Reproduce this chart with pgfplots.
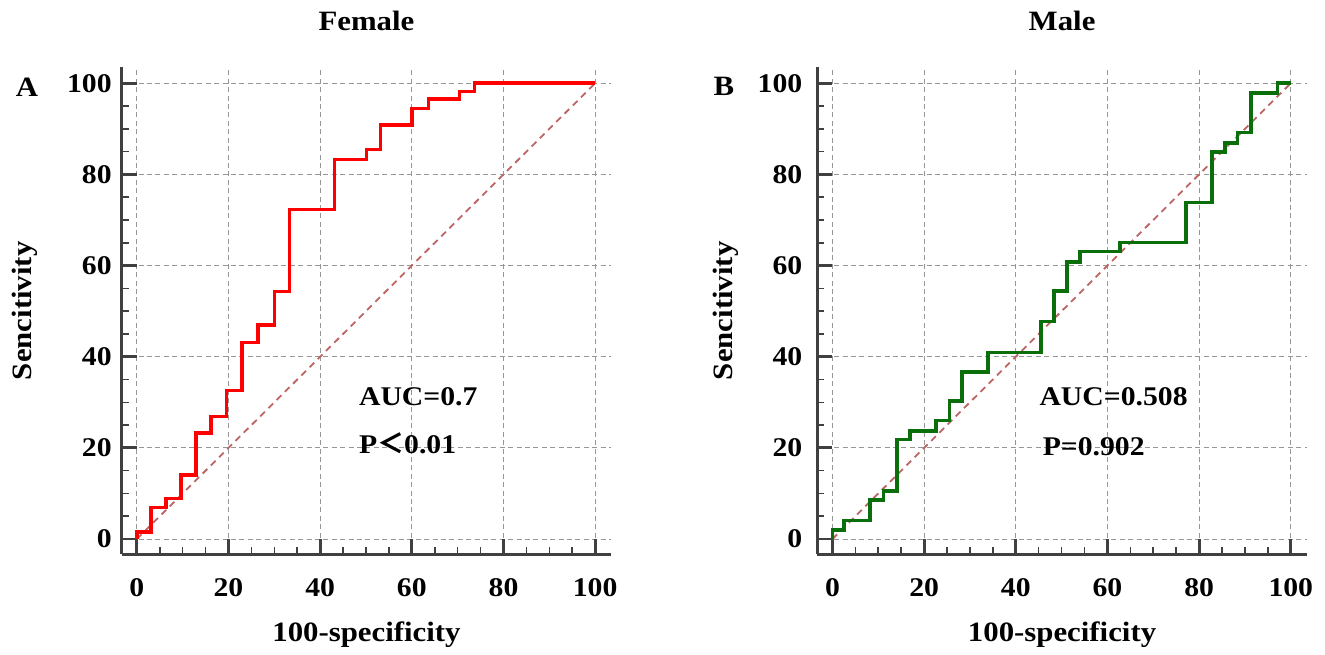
\documentclass[border=0pt]{standalone}
\usepackage{fontspec}
\setmainfont{Liberation Serif}[FakeStretch=1.1]
\newfontfamily\cjk{Noto Sans CJK SC}
\usepackage{pgfplots}
\pgfplotsset{compat=1.18}

\definecolor{spine}{RGB}{64,64,64}
\definecolor{gridc}{RGB}{150,150,150}
\definecolor{diag}{RGB}{190,100,100}
\definecolor{rocred}{RGB}{255,0,0}
\definecolor{rocgreen}{RGB}{10,110,10}

\newcommand{\tickfont}{\fontsize{13.5}{16}\selectfont\bfseries}
\newcommand{\labfont}{\fontsize{14}{17}\selectfont\bfseries}

\pgfplotsset{
  rocax/.style={
    scale only axis, width=244.75pt, height=243.5pt,
    xmin=-3.3, xmax=103.5, ymin=-3.35, ymax=103.5,
    axis x line=bottom, axis y line=left,
    every outer x axis line/.append style={-},
    every outer y axis line/.append style={-},
    axis line style={line width=1.4pt, draw=spine},
    xtick={0,20,...,100}, ytick={0,20,...,100},
    minor tick num=3,
    tick align=inside,
    major tick length=7.5pt, minor tick length=3.5pt,
    major tick style={line width=1.4pt, draw=spine},
    minor tick style={line width=0.8pt, draw=spine},
    grid=major,
    major grid style={draw=gridc, line width=0.5pt, dash pattern=on 2.5pt off 1.7pt},
    tick label style={font=\tickfont},
    /pgf/number format/assume math mode=true,
    xticklabel style={yshift=-8.8pt},
    label style={font=\labfont},
    xlabel={100-specificity}, ylabel={Sencitivity},
    xlabel style={at={(axis description cs:0.5,-0.18)}, anchor=base},
    title style={at={(axis description cs:0.5,1.051)}, anchor=base, font=\labfont},
    clip=false,
  },
}

\begin{document}
\begin{tikzpicture}
\useasboundingbox (0,0) rectangle (662.5pt,327pt);

\begin{axis}[rocax, at={(60.85pt,49.85pt)}, anchor=south west,
  title={Female},
  yticklabel style={xshift=-1.5pt},
  ylabel style={at={(axis description cs:-0.1976,0.5)}, anchor=center}]
  \addplot[diag, line width=0.9pt, dash pattern=on 3.3pt off 2.5pt] coordinates {(0,0) (100,100)};
  \addplot[rocred, line width=1.8pt] coordinates {
    (0,0) (0,1.6) (3.1,1.6) (3.1,6.9) (6.3,6.9) (6.3,8.9) (9.7,8.9) (9.7,14.1)
    (12.9,14.1) (12.9,23.3) (16.2,23.3) (16.2,26.9) (19.6,26.9) (19.6,32.6)
    (22.9,32.6) (22.9,43.1) (26.5,43.1) (26.5,46.9) (30,46.9) (30,54.3)
    (33.3,54.3) (33.3,72.3) (43.1,72.3) (43.1,83.3) (50.1,83.3) (50.1,85.5)
    (53.2,85.5) (53.2,90.9) (60,90.9) (60,94.5) (63.6,94.5) (63.6,96.5)
    (70.4,96.5) (70.4,98.2) (73.7,98.2) (73.7,100) (100,100)
  };
  \node[anchor=base west, font=\tickfont, inner sep=0pt] at (axis cs:48.4,29.4) {AUC=0.7};
  \node[anchor=base west, font=\tickfont, inner sep=0pt] at (axis cs:48.4,18.8) {P{\cjk ＜}0.01};
\end{axis}

\begin{axis}[rocax, at={(408.65pt,49.85pt)}, anchor=south west,
  title={Male},
  yticklabel style={xshift=-4pt},
  ylabel style={at={(axis description cs:-0.186,0.5)}, anchor=center}]
  \addplot[diag, line width=0.9pt, dash pattern=on 3.3pt off 2.5pt] coordinates {(0,0) (100,100)};
  \addplot[rocgreen, line width=1.8pt] coordinates {
    (0,0) (0,2) (2.5,2) (2.5,4.1) (8.2,4.1) (8.2,8.5) (11.1,8.5) (11.1,10.5)
    (14.1,10.5) (14.1,21.8) (16.9,21.8) (16.9,23.7) (22.6,23.7) (22.6,26)
    (25.5,26) (25.5,30.3) (28.3,30.3) (28.3,36.7) (33.9,36.7) (33.9,40.9)
    (45.5,40.9) (45.5,47.7) (48.4,47.7) (48.4,54.4) (51.2,54.4) (51.2,60.8)
    (54,60.8) (54,63.1) (62.7,63.1) (62.7,65.1) (77.1,65.1) (77.1,73.8)
    (82.8,73.8) (82.8,84.9) (85.6,84.9) (85.6,86.9) (88.4,86.9) (88.4,89.2)
    (91.3,89.2) (91.3,97.8) (97.1,97.8) (97.1,100) (100,100)
  };
  \node[anchor=base west, font=\tickfont, inner sep=0pt] at (axis cs:45.1,29.3) {AUC=0.508};
  \node[anchor=base west, font=\tickfont, inner sep=0pt] at (axis cs:45.8,18.4) {P=0.902};
\end{axis}

\node[anchor=base, font=\labfont, inner sep=0pt] at (13.5pt,278.65pt) {A};
\node[anchor=base, font=\labfont, inner sep=0pt] at (362pt,279pt) {B};
\end{tikzpicture}
\end{document}
